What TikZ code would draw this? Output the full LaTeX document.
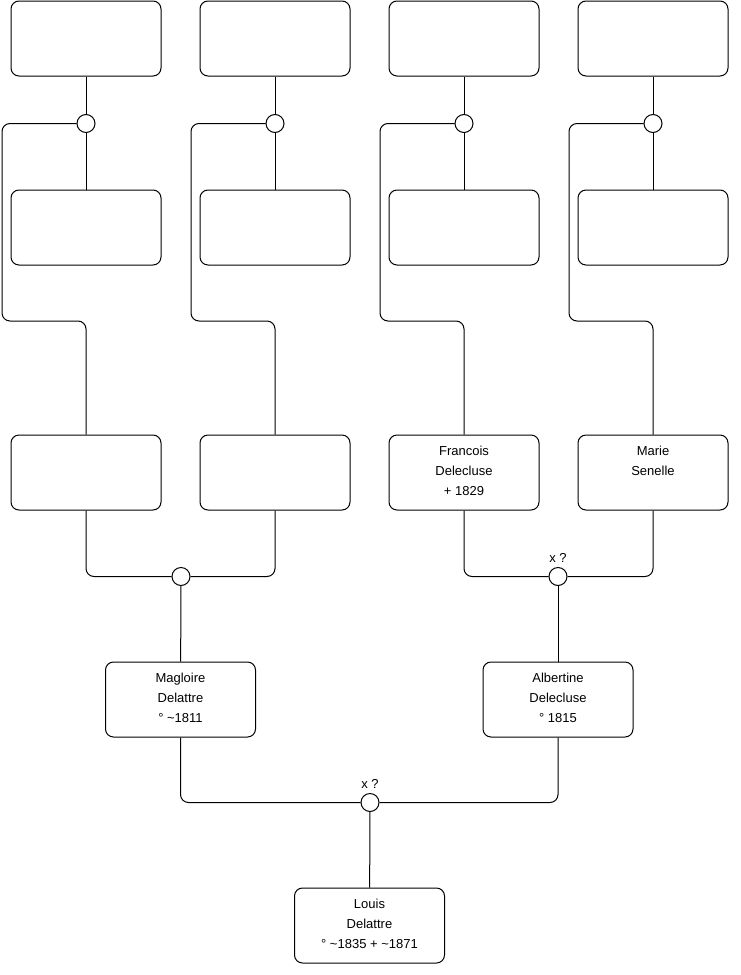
\documentclass[tikz,border=0pt]{standalone}
\usepackage{fontspec}
\setmainfont{Liberation Sans}
\usetikzlibrary{positioning}
\begin{document}
\begin{tikzpicture}[x=1pt, y=-1pt, line width=1pt,
		person/.style={draw, rounded corners=8pt, minimum width=150pt, minimum height=75pt, inner sep=0pt},
		union/.style={draw, circle, minimum size=18pt, inner sep=0pt, fill=white},
		who/.style={anchor=north, align=center, inner sep=0pt, yshift=-11pt, font=\fontsize{13}{20}\selectfont},
		guess/.style={font=\fontsize{13}{14}\selectfont, inner sep=0pt}]
		\useasboundingbox (0, 0) rectangle (740, 975);
		% four ancestor columns: top parent, union, second parent, child
		\foreach \i/\x in {1/86, 2/275, 3/464, 4/653} {
			\node[person] (t\i) at (\x, 38.5) {};
			\node[person] (m\i) at (\x, 227.5) {};
			\node[person] (g\i) at (\x, 472.5) {};
			\node[union] (u\i) at (\x, 123.5) {};
			\draw (t\i) -- (u\i) -- (m\i);
			\draw[rounded corners=8pt] (u\i.west) -| (\x - 84, 321) -| (g\i.north);
		}
		\node[who] (g3text) at (g3.north) {Francois\\Delecluse\\+ 1829};
		\node[who] (g4text) at (g4.north) {Marie\\Senelle};
		% parents
		\node[union] (ul) at (181, 576.5) {};
		\node[union] (ur) at (558, 576.5) {};
		\node[guess, above=4pt of ur] (urtext) {x ?};
		\node[person] (p1) at (180.5, 699.5) {};
		\node[person] (p2) at (558, 699.5) {};
		\node[who] (p1text) at (p1.north) {Magloire\\Delattre\\° \textasciitilde1811};
		\node[who] (p2text) at (p2.north) {Albertine\\Delecluse\\° 1815};
		\draw[rounded corners=8pt] (g1.south) |- (ul.west);
		\draw[rounded corners=8pt] (g2.south) |- (ul.east);
		\draw[rounded corners=8pt] (g3.south) |- (ur.west);
		\draw[rounded corners=8pt] (g4.south) |- (ur.east);
		\draw (ul) -- (p1);
		\draw (ur) -- (p2);
		% child
		\node[union] (uc) at (370, 802.5) {};
		\node[guess, above=4pt of uc] (uctext) {x ?};
		\node[person] (c) at (369.5, 925.5) {};
		\node[who] (ctext) at (c.north) {Louis\\Delattre\\° \textasciitilde1835 + \textasciitilde1871};
		\draw[rounded corners=8pt] (p1.south) |- (uc.west);
		\draw[rounded corners=8pt] (p2.south) |- (uc.east);
		\draw (uc) -- (c);
	\end{tikzpicture}
\end{document}
